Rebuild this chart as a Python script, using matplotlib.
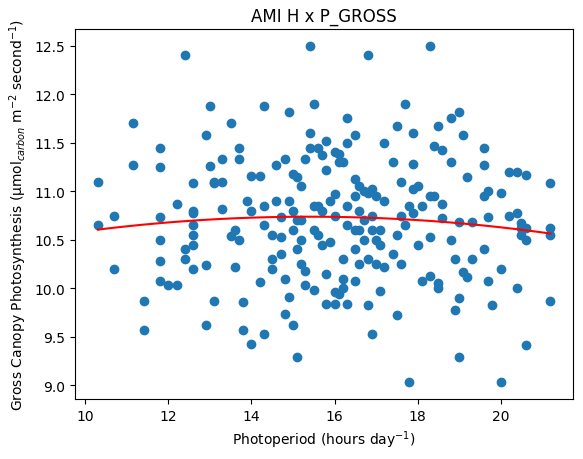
import numpy as np
import matplotlib
matplotlib.use("Agg")
import matplotlib.pyplot as plt

# Photoperiod values with the gross photosynthesis values read at each one
columns = {
    10.3: [11.1, 10.65], 10.7: [10.75, 10.2], 11.15: [11.7, 11.27], 11.4: [9.87, 9.57],
    11.8: [11.45, 11.25, 10.73, 10.5, 10.28, 10.07], 12.0: [10.03], 12.2: [10.03, 10.87],
    12.4: [12.4, 10.4, 10.3], 12.6: [10.65, 10.55, 10.45, 10.8, 11.08, 10.78, 10.2],
    12.9: [11.58, 10.24, 9.62], 13.0: [11.88, 11.26], 13.1: [11.08, 11.1, 9.87],
    13.3: [11.33, 11.1, 10.82], 13.5: [11.7, 10.54], 13.6: [10.22, 10.6],
    13.7: [11.45, 11.33, 10.5], 13.8: [9.86, 9.57], 13.9: [10.9], 14.0: [9.43, 10.8, 11.16],
    14.2: [11.16, 10.06], 14.3: [11.88, 10.85, 10.65, 9.53], 14.5: [10.55, 10.3, 10.2],
    14.6: [11.27, 10.9], 14.7: [10.73, 10.53, 10.35], 14.8: [11.33, 10.1, 9.73],
    14.9: [11.82, 10.9, 9.91], 15.0: [11.18, 10.8, 10.6, 9.62], 15.1: [11.15, 10.7, 10.4, 9.29],
    15.2: [11.05, 10.7, 10.5, 10.25], 15.3: [11.33, 10.18, 10.03], 15.4: [12.5, 11.6, 11.45],
    15.5: [11.9, 10.85, 10.6, 9.98], 15.6: [11.45, 10.85, 10.55], 15.7: [11.37, 10.8, 10.45],
    15.8: [11.52, 11.22, 9.84, 10.15], 15.9: [10.9, 10.48], 16.0: [11.4, 10.97, 10.75, 9.96, 9.84],
    16.1: [11.3, 11.38, 9.94], 16.2: [11.3, 10.3, 10.1, 10.0], 16.3: [11.75, 11.5, 10.85, 10.65, 9.84],
    16.5: [11.58, 11.13, 10.95, 10.6, 10.4, 10.07], 16.6: [11.05, 10.8, 10.6, 10.25],
    16.7: [11.0, 10.7, 10.5], 16.8: [12.4, 10.98, 10.3, 9.83], 16.9: [11.02, 10.75, 10.6, 9.53],
    17.0: [10.95, 10.5, 10.25], 17.1: [10.6, 10.45, 9.97], 17.2: [11.5, 10.9, 10.22],
    17.4: [11.3, 10.35], 17.5: [11.67, 10.55, 9.72], 17.6: [11.1, 10.75, 10.25],
    17.7: [11.9, 10.65], 17.8: [10.85, 9.03], 17.9: [11.6, 11.28, 11.02, 10.78],
    18.0: [11.05, 10.45], 18.1: [10.85, 10.07], 18.3: [12.5, 10.95, 10.53, 10.13],
    18.4: [11.47, 10.95], 18.5: [11.67, 10.05, 10.0], 18.6: [11.43, 10.87, 10.72],
    18.8: [11.75, 11.3, 10.5], 18.9: [10.3, 9.78], 19.0: [11.82, 10.68, 9.9, 9.29],
    19.1: [11.58, 10.17], 19.2: [11.15, 10.12], 19.3: [10.68, 10.3],
    19.6: [11.27, 11.45, 10.95, 10.4], 19.7: [11.0, 10.73, 10.08], 19.8: [9.83],
    20.0: [10.98, 10.2, 9.03], 20.2: [11.2, 10.75], 20.4: [10.0, 11.2, 10.78],
    20.5: [10.55, 10.67, 10.62], 20.6: [11.17, 10.5, 9.42, 10.62],
    21.2: [11.08, 10.62, 10.55, 9.87],
}
photoperiod = np.array([x for x, ys in columns.items() for _ in ys])
p_gross = np.array([y for ys in columns.values() for y in ys])

fig, ax = plt.subplots(figsize=(5.83, 4.6), dpi=100)
fig.subplots_adjust(left=0.129, right=0.983, top=0.935, bottom=0.13)

ax.scatter(photoperiod, p_gross, color="#1f77b4")

# quadratic trend
coef = np.polyfit(photoperiod, p_gross, 2)
xs = np.linspace(photoperiod.min(), photoperiod.max(), 100)
ax.plot(xs, np.polyval(coef, xs), color="red")

ax.set_title("AMI H x P_GROSS")
ax.set_xlabel("Photoperiod (hours day$^{-1}$)")
ax.set_ylabel("Gross Canopy Photosynthesis (µmol$_{carbon}$ m$^{-2}$ second$^{-1}$)")
ax.set_yticks(np.arange(9.0, 12.51, 0.5))
fig.savefig("out.png")
